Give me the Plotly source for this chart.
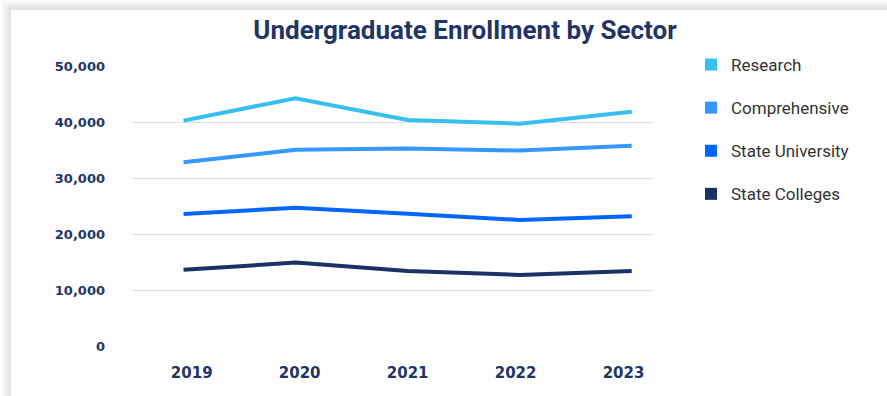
import plotly.graph_objects as go

years = [2019, 2020, 2021, 2022, 2023]
series_names = ["Research", "Comprehensive", "State University", "State Colleges"]
research = [40250, 44250, 40350, 39700, 41850]
comprehensive = [32800, 35050, 35250, 34900, 35750]
state_university = [23550, 24700, 23600, 22500, 23150]
state_colleges = [13600, 14900, 13400, 12700, 13400]
y_ticks = [0, 10000, 20000, 30000, 40000, 50000]
y_tick_labels = ["0", "10,000", "20,000", "30,000", "40,000", "50,000"]

colors = ["#38bff2", "#3399ff", "#0066ff", "#1b3266"]
values = [research, comprehensive, state_university, state_colleges]

W, H = 887, 396
L, R, T, B = 132, 653, 66, 346


def px_x(p):
    return (p - L) / (R - L)


def px_y(p):
    return (B - p) / (B - T)


# tick labels in the reference sit on a slightly tighter spacing than the points
label_spacing = 108 / 112.1
tick_positions = [2021 + (y - 2021) * label_spacing for y in years]

fig = go.Figure()
for name, vals, c in zip(series_names, values, colors):
    fig.add_trace(go.Scatter(x=years, y=vals, mode="lines", name=name,
                             line=dict(color=c, width=4), showlegend=False,
                             legendgroup=name))
for name, c in zip(series_names, colors):
    fig.add_trace(go.Scatter(x=[None], y=[None], mode="markers", name=name,
                             marker=dict(symbol="square", size=12, color=c),
                             legendgroup=name, showlegend=True))

shapes = []
for k in range(10, 0, -1):
    shapes.append(dict(type="rect", xref="paper", yref="paper", layer="below",
                       x0=px_x(11 - k), x1=px_x(910), y0=px_y(410), y1=px_y(10 - k),
                       line=dict(width=0), fillcolor="rgba(0,0,0,0.011)"))
shapes.append(dict(type="rect", xref="paper", yref="paper", layer="below",
                   x0=px_x(11), x1=px_x(910), y0=px_y(410), y1=px_y(10),
                   line=dict(width=0), fillcolor="white"))

fig.update_layout(
    width=W, height=H,
    margin=dict(l=L, r=W - R, t=T, b=H - B),
    paper_bgcolor="white", plot_bgcolor="rgba(0,0,0,0)",
    shapes=shapes,
    title=dict(text="Undergraduate Enrollment by Sector", x=465 / W, xanchor="center",
               y=1 - 30 / H, yanchor="middle",
               font=dict(family="Roboto", size=26, color="#1f3566", weight="bold")),
    xaxis=dict(range=[2018.54, 2023.19], tickvals=tick_positions,
               ticktext=[str(y) for y in years],
               showgrid=False, zeroline=False, showline=False, ticks="",
               ticklabelstandoff=16,
               tickfont=dict(family="DejaVu Sans", size=15, color="#1f3566", weight="bold")),
    yaxis=dict(range=[0, 50000], tickvals=y_ticks, ticktext=y_tick_labels,
               showgrid=True, gridcolor="#dcdde8", gridwidth=1, zeroline=False,
               showline=False, ticks="", ticklabelstandoff=26,
               tickfont=dict(family="DejaVu Sans", size=13, color="#1f3566", weight="bold")),
    legend=dict(x=px_x(691), xanchor="left", y=px_y(47), yanchor="top",
                tracegroupgap=18, bgcolor="rgba(0,0,0,0)",
                font=dict(family="Roboto", size=17, color="#333333")),
    showlegend=True,
)

fig.write_html("out.html")
